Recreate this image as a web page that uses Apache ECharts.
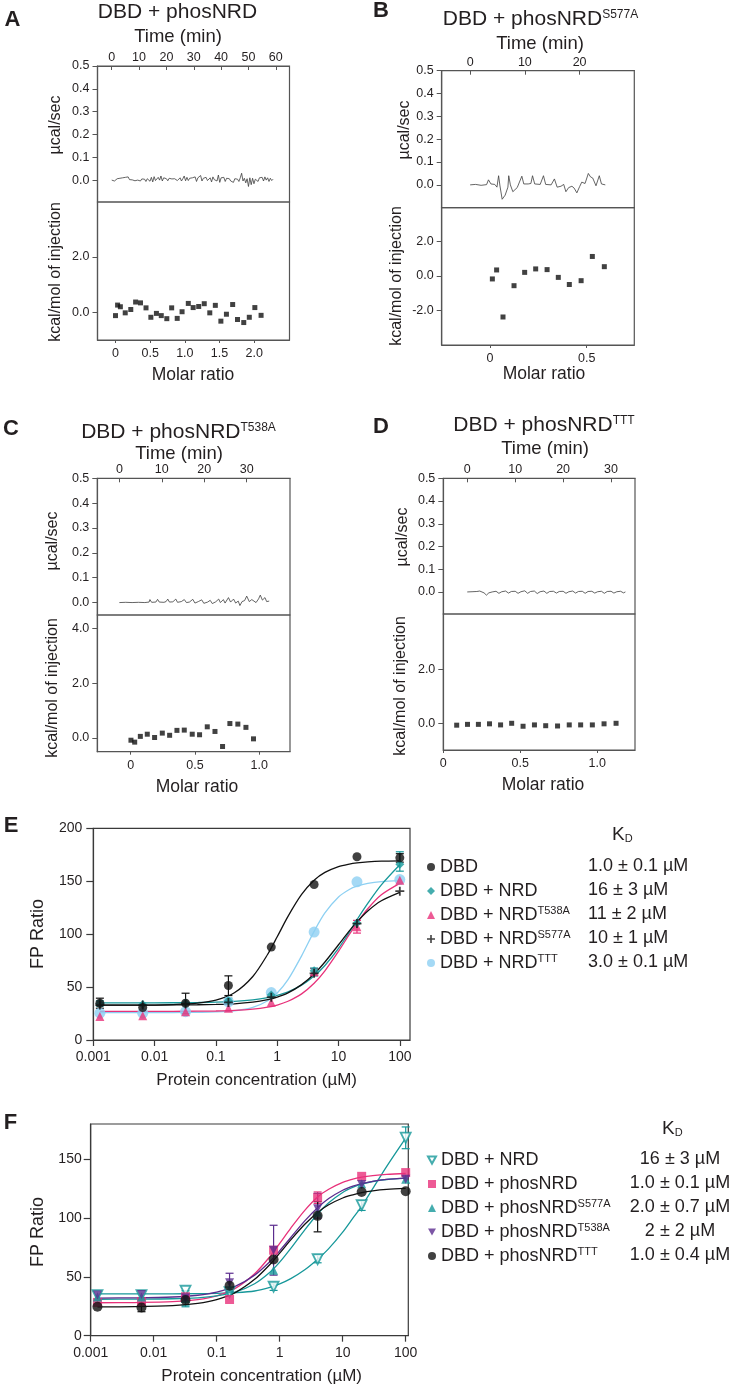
<!DOCTYPE html>
<html>
<head>
<meta charset="UTF-8">
<title>DBD / NRD binding: ITC and FP</title>
<script src="https://cdn.jsdelivr.net/npm/echarts@6.0.0/dist/echarts.min.js"></script>
<style>
    html, body { margin: 0; padding: 0; background: #fff; }
    #main { width: 737px; height: 1389px; }
</style>
</head>
<body>
<div id="main"></div>
<script>
// ---------- ITC raw traces (time in min, µcal/sec) ----------
var traceAStep = 0.5;
var traceA = [
    0.000, 0.002, -0.004, 0.003, 0.006, -0.002, 0.008, 0.004, 0.010, 0.003,
    0.012, 0.006, 0.014, 0.002, 0.009, 0.001, 0.006, -0.003, 0.004, 0.000,
    0.002, -0.004, 0.005, -0.002, 0.004, -0.006, 0.006, 0.001, -0.005, 0.012,
    -0.008, 0.015, -0.002, 0.004, 0.012, 0.000, 0.018, -0.004, 0.010, 0.002,
    0.006, -0.003, 0.008, 0.002, 0.005, -0.001, 0.006, 0.003, -0.002, 0.005,
    0.010, -0.004, 0.006, 0.018, -0.003, 0.012, -0.002, 0.008, 0.000, 0.010,
    0.004, 0.014, -0.006, 0.010, 0.002, 0.020, -0.004, 0.008, 0.003, 0.012,
    -0.002, 0.006, 0.010, -0.008, 0.014, 0.002, 0.008, -0.004, 0.022, -0.010,
    0.010, 0.004, 0.012, -0.006, 0.008, 0.002, 0.006, -0.004, 0.004, -0.010,
    0.006, 0.000, 0.004, -0.006, 0.010, 0.030, -0.004, 0.008, -0.012, 0.006,
    -0.028, 0.010, -0.020, 0.008, -0.016, 0.004, 0.012, -0.006, 0.010, 0.002,
    0.012, -0.004, 0.014, 0.000, 0.010, -0.006, 0.008, -0.002, 0.004
];
var traceB = [[0,0],[1,0.002],[2,-0.002],[3,0.001],[3.35,0.022],[3.8,0.004],[4.5,0.002],[4.9,-0.01],
    [5.2,0.04],[5.45,-0.005],[5.85,-0.063],[6.4,-0.045],[6.9,-0.01],[7.05,0.04],[7.35,0],[7.8,-0.03],
    [8.6,-0.012],[9.45,0.038],[9.8,0.004],[10.6,0.004],[11.1,0.006],[11.4,0.04],[11.8,0.004],[12.8,0.002],
    [13.4,0.04],[13.8,0.002],[14.8,0],[15.4,0.026],[15.9,-0.01],[16.6,-0.006],[17.1,0.002],[17.5,-0.03],
    [18,-0.012],[18.6,-0.006],[19,-0.014],[19.5,-0.035],[20,-0.008],[20.4,0.012],[21,0.006],[21.6,0.05],
    [22,0.035],[22.4,0.03],[23,-0.004],[23.6,0.04],[24,0.004],[24.7,0]];
var traceC = [[0,0],[1.5,0.001],[3,0],[4.5,0.001],[6,0],[7,0.002],[7.2,0.012],[7.6,0.001],[8.6,0.002],
    [9,0.013],[9.4,0.002],[10.5,0.001],[11,0.004],[11.4,0.014],[11.8,0.002],[12.6,0.003],[13.3,0.014],
    [13.7,0.001],[14.6,0.004],[15.3,0.012],[15.8,0],[16.5,0.002],[17.3,0.013],[17.8,-0.002],[18.6,0.004],
    [19.4,0.011],[19.9,-0.003],[20.8,0.002],[21.4,0.009],[21.9,-0.004],[22.7,0.003],[23.4,0.014],[23.8,0],
    [24.5,0.012],[24.9,-0.002],[25.7,0.02],[26.2,0.002],[26.9,0.014],[27.4,-0.002],[28,0.006],[28.4,-0.012],
    [28.9,0.004],[29.5,0.008],[30,0.026],[30.6,0.004],[31.2,0.012],[31.6,0.02],[32.2,0],[32.8,0.015],
    [33.2,0.03],[33.7,0.01],[34.3,0.02],[34.7,0.004],[35.3,0.006]];
var traceD = [[0,0],[1,0.001],[2,0.002],[2.6,0.004],[3,0],[3.5,-0.004],[4,-0.014],[4.5,-0.004],[5.2,0],
    [6,0.003],[6.6,-0.006],[7.2,0.001],[8,0.004],[8.6,-0.005],[9.2,0.002],[10,0.003],[10.6,-0.006],
    [11.2,0.001],[12,0.005],[12.6,-0.006],[13.2,0.002],[14,0.004],[14.6,-0.007],[15.2,0.001],[16,0.004],
    [16.6,-0.006],[17.2,0.002],[18,0.003],[18.6,-0.005],[19.2,0.002],[20,0.003],[20.6,-0.006],[21.2,0.001],
    [22,0.004],[22.6,-0.005],[23.2,0.002],[24,0.003],[24.6,-0.006],[25.2,0.002],[26,0.003],[26.6,-0.005],
    [27.2,0.001],[28,0.003],[28.6,-0.006],[29.2,0.002],[30,0.003],[30.6,-0.005],[31.2,0.001],[32,0.003],
    [32.6,-0.004],[33,0]];

// ---------- ITC integrated heats (molar ratio, kcal/mol of injection) ----------
var ratioA = [0.00,0.03,0.07,0.14,0.22,0.29,0.36,0.44,0.51,0.59,0.66,0.74,0.81,0.89,0.96,1.05,1.12,1.20,1.28,1.36,1.44,1.52,1.60,1.69,1.76,1.85,1.93,2.01,2.10];
var heatA  = [-0.12,0.26,0.20,-0.02,0.10,0.37,0.34,0.16,-0.18,-0.04,-0.12,-0.23,0.16,-0.22,0.02,0.32,0.17,0.21,0.31,-0.02,0.25,-0.32,-0.07,0.28,-0.26,-0.37,-0.18,0.17,-0.11];
var ratioB = [0.012,0.034,0.067,0.124,0.179,0.236,0.295,0.353,0.41,0.471,0.529,0.591];
var heatB  = [-0.17,0.35,-2.37,-0.56,0.21,0.41,0.37,-0.08,-0.49,-0.27,1.13,0.54];
var ratioC = [0.002,0.031,0.075,0.129,0.186,0.246,0.303,0.36,0.417,0.479,0.536,0.596,0.656,0.715,0.772,0.834,0.897,0.956];
var heatC  = [-0.09,-0.16,0.05,0.13,0.01,0.17,0.09,0.27,0.28,0.13,0.11,0.40,0.23,-0.32,0.52,0.50,0.38,-0.04];
var ratioD = [0.087,0.157,0.228,0.30,0.372,0.444,0.518,0.592,0.665,0.742,0.818,0.892,0.968,1.044,1.122];
var heatD  = [-0.07,-0.04,-0.04,-0.02,-0.06,0.0,-0.11,-0.06,-0.09,-0.10,-0.06,-0.06,-0.06,-0.02,0.0];

// ---------- ITC tick values ----------
var powerTicks = [0, 0.1, 0.2, 0.3, 0.4, 0.5];
var timeTicksA = [0, 10, 20, 30, 40, 50, 60];
var timeTicksB = [0, 10, 20];
var timeTicksCD = [0, 10, 20, 30];
var ratioTicksA = [0, 0.5, 1, 1.5, 2];
var ratioTicksB = [0, 0.5];
var ratioTicksCD = [0, 0.5, 1];
var heatTicksA = [0, 2];
var heatTicksB = [-2, 0, 2];
var heatTicksC = [0, 2, 4];
var heatTicksD = [0, 2];

// ---------- FP titrations (µM, FP ratio) ----------
var conc = [0.00128, 0.0064, 0.032, 0.16, 0.8, 4, 20, 100];
var fpE_DBD   = [34.7, 30.6, 34.7, 51.5, 87.8, 146.9, 173.1, 172.1];
var fpE_NRD   = [34.5, 33.5, 35.0, 37.0, 42.5, 65.4, 110.5, 166.0];
var fpE_T538A = [22.1, 23.0, 26.8, 30.0, 35.7, 64.5, 107.0, 151.0];
var fpE_S577A = [33.0, 33.0, 34.0, 35.5, 40.5, 63.0, 110.0, 140.6];
var fpE_TTT   = [25.3, 25.3, 26.8, 36.0, 44.8, 102.0, 149.4, 151.6];

var fpF_NRD   = [34.5, 34.5, 38.2, 37.0, 41.6, 65.1, 111.0, 168.4];
var fpF_phos  = [28.3, 28.9, 33.1, 30.8, 72.7, 117.4, 135.5, 138.7];
var fpF_S577A = [33.0, 33.0, 31.7, 40.0, 55.7, 105.0, 129.3, 133.0];
var fpF_T538A = [34.5, 35.0, 32.0, 45.0, 72.7, 108.0, 128.5, 133.0];
var fpF_TTT   = [24.6, 24.0, 30.3, 42.4, 64.8, 101.9, 122.2, 122.8];

// error bars: [conc, low, high]
var errE_DBD   = [[0.00128, 30, 39.5], [0.032, 25.3, 44.2], [0.16, 42, 60.6], [100, 168, 176]];
var errE_NRD   = [[0.00128, 32, 37], [0.16, 34.5, 39.5], [4, 60.5, 68], [100, 159.5, 177.8]];
var errE_T538A = [[4, 61, 67.5], [20, 101, 113]];
var errF_NRD   = [[0.00128, 30.3, 37.8], [0.032, 24.6, 38.2], [0.8, 38.5, 44], [4, 62, 68.5], [20, 106.5, 114.5], [100, 159, 177.5]];
var errF_phos  = [[4, 112.5, 122.2]];
var errF_S577A = [[0.032, 26, 36]];
var errF_T538A = [[0.16, 37.6, 53.1], [0.8, 51.5, 93.9], [4, 100, 121]];
var errF_TTT   = [[0.0064, 20.4, 27.5], [4, 88.3, 114]];

// fitted curves at these concentrations
var fitX = [0.00128, 0.005, 0.02, 0.05, 0.1, 0.2, 0.4, 0.7, 1, 1.5, 2.5, 4, 6, 10, 15, 20, 30, 50, 100];
var fitE_DBD   = [33.0, 33.0, 33.5, 34.8, 37.6, 44.6, 60.0, 81.0, 97.5, 116.8, 137.5, 150.9, 158.3, 163.8, 166.2, 167.3, 168.3, 169.0, 169.3];
var fitE_NRD   = [35.0, 35.0, 35.2, 35.4, 35.7, 36.5, 38.0, 40.1, 42.2, 45.5, 51.8, 60.4, 70.4, 86.6, 101.9, 113.6, 129.0, 146.5, 165.5];
var fitE_T538A = [27.0, 27.0, 27.1, 27.2, 27.4, 27.9, 29.1, 31.0, 33.0, 36.6, 43.6, 53.6, 65.4, 83.8, 99.7, 110.5, 124.0, 137.2, 148.0];
var fitE_S577A = [33.0, 33.0, 33.1, 33.3, 33.6, 34.2, 35.7, 38.1, 40.5, 44.5, 52.3, 62.4, 73.7, 90.0, 103.1, 111.6, 121.9, 131.5, 139.5];
var fitE_TTT   = [26.0, 26.0, 26.0, 26.2, 26.5, 27.6, 30.8, 37.1, 44.4, 57.0, 79.5, 102.6, 120.0, 135.1, 142.2, 145.3, 147.9, 149.6, 150.5];
var fitF_NRD   = [35.5, 35.5, 35.6, 35.8, 36.0, 36.6, 38.0, 41.0, 44.0, 48.5, 56.0, 65.0, 74.0, 88.0, 101.0, 110.0, 125.0, 144.0, 168.0];
var fitF_phos  = [28.0, 28.2, 28.9, 30.7, 33.9, 40.4, 52.6, 67.3, 78.5, 91.5, 106.6, 118.0, 124.5, 130.3, 133.3, 134.8, 136.1, 137.2, 137.9];
var fitF_S577A = [31.0, 31.1, 31.4, 32.2, 33.8, 37.2, 44.2, 54.0, 62.5, 74.2, 90.0, 103.5, 113.0, 121.8, 126.5, 128.9, 131.1, 132.8, 134.0];
var fitF_T538A = [32.0, 32.2, 32.9, 34.4, 37.0, 42.1, 51.5, 63.1, 72.2, 83.5, 97.6, 108.8, 116.6, 123.7, 127.4, 129.3, 131.3, 132.9, 134.0];
var fitF_TTT   = [24.5, 24.7, 25.6, 27.5, 30.7, 36.9, 47.9, 60.6, 70.2, 81.5, 94.7, 104.8, 111.3, 117.1, 120.0, 121.7, 123.2, 124.4, 125.3];

var fpTicksE = [0, 50, 100, 150, 200];
var fpTicksF = [0, 50, 100, 150];

// legend texts and KD columns
var namesE = ['E-DBD', 'E-NRD', 'E-T538A', 'E-S577A', 'E-TTT'];
var labelsE = ['DBD', 'DBD + NRD', 'DBD + NRD{sup|T538A}', 'DBD + NRD{sup|S577A}', 'DBD + NRD{sup|TTT}'];
var kdE = ['1.0 ± 0.1 µM', '16 ± 3 µM', '11 ± 2 µM', '10 ± 1 µM', '3.0 ± 0.1 µM'];
var namesF = ['F-NRD', 'F-phos', 'F-S577A', 'F-T538A', 'F-TTT'];
var labelsF = ['DBD + NRD', 'DBD + phosNRD', 'DBD + phosNRD{sup|S577A}', 'DBD + phosNRD{sup|T538A}', 'DBD + phosNRD{sup|TTT}'];
var kdF = ['16 ± 3 µM', '1.0 ± 0.1 µM', '2.0 ± 0.7 µM', '2 ± 2 µM', '1.0 ± 0.4 µM'];

// ---------- styles ----------
var FONT = '"Liberation Sans", Arial, Helvetica, sans-serif';
var INK = '#231f20';
var BOX = '#555555';
var AX = '#3a3a3a';
var TEAL = '#17989a';
var PINK = '#e8317a';
var SKY = '#8dd0f2';
var PURPLE = '#5b2c8e';
var BLACK = '#111111';
var PLUS = 'path://M4,0H6V4H10V6H6V10H4V6H0V4H4Z';
var DOWN = 'path://M0,0L10,0L5,9Z';

var legendLabel = {};
namesE.forEach(function (n, i) { legendLabel[n] = labelsE[i]; });
namesF.forEach(function (n, i) { legendLabel[n] = labelsF[i]; });

var grids = [
    {left: 97.5, top: 66, width: 192, height: 136},
    {left: 97.5, top: 202, width: 192, height: 138},
    {left: 441.7, top: 70.7, width: 192.6, height: 137},
    {left: 441.7, top: 207.7, width: 192.6, height: 137.3},
    {left: 97.3, top: 478.3, width: 192.7, height: 136.7},
    {left: 97.3, top: 615, width: 192.7, height: 136.7},
    {left: 443.3, top: 478.3, width: 191.7, height: 135.7},
    {left: 443.3, top: 614, width: 191.7, height: 136},
    {left: 93.3, top: 828.3, width: 316.7, height: 211.7},
    {left: 90.7, top: 1124, width: 317.6, height: 211.7}
].map(function (g, i) {
    g.show = true;
    g.borderColor = i >= 8 ? AX : BOX;
    g.borderWidth = 1.2;
    g.containLabel = false;
    g.outerBoundsMode = 'none';
    return g;
});

function labelStyle(size) {
    return {fontSize: size, color: INK, fontFamily: FONT};
}
function itcTopX(gi, min, max, ticks) {
    return {
        gridIndex: gi, type: 'value', position: 'top', min: min, max: max,
        axisLine: {onZero: false, lineStyle: {color: BOX, width: 1.2}},
        axisTick: {inside: true, length: 4, customValues: ticks, lineStyle: {color: BOX}},
        axisLabel: Object.assign(labelStyle(12.5), {customValues: ticks, margin: 2}),
        splitLine: {show: false}
    };
}
function itcBotX(gi, min, max, ticks) {
    return {
        gridIndex: gi, type: 'value', min: min, max: max,
        axisLine: {onZero: false, lineStyle: {color: BOX, width: 1.2}},
        axisTick: {length: 3, customValues: ticks, lineStyle: {color: BOX}},
        axisLabel: Object.assign(labelStyle(12.5), {
            customValues: ticks, margin: 7,
            formatter: function (v) { return v === 0 ? '0' : v.toFixed(1); }
        }),
        splitLine: {show: false}
    };
}
function itcY(gi, min, max, ticks) {
    return {
        gridIndex: gi, type: 'value', min: min, max: max,
        axisLine: {onZero: false, lineStyle: {color: BOX, width: 1.2}},
        axisTick: {length: 5, customValues: ticks, lineStyle: {color: BOX}},
        axisLabel: Object.assign(labelStyle(12.5), {
            customValues: ticks, margin: 8,
            formatter: function (v) { return v.toFixed(1); }
        }),
        splitLine: {show: false}
    };
}
function fpX(gi, max) {
    return {
        gridIndex: gi, type: 'log', logBase: 10, min: 0.001, max: max,
        axisLine: {onZero: false, lineStyle: {color: AX, width: 1.2}},
        axisTick: {length: 6, lineStyle: {color: AX, width: 1.2}},
        minorTick: {show: false},
        axisLabel: Object.assign(labelStyle(14), {
            margin: 10, showMaxLabel: false,
            formatter: function (v) { return String(Number(v.toPrecision(2))); }
        }),
        splitLine: {show: false}
    };
}
function fpY(gi, max, ticks, margin) {
    return {
        gridIndex: gi, type: 'value', min: 0, max: max,
        axisLine: {onZero: false, lineStyle: {color: AX, width: 1.2}},
        axisTick: {length: 7, customValues: ticks, lineStyle: {color: AX, width: 1.2}},
        axisLabel: Object.assign(labelStyle(14), {customValues: ticks, margin: margin}),
        splitLine: {show: false}
    };
}

var xAxes = [
    itcTopX(0, -5.2, 65, timeTicksA), itcBotX(1, -0.26, 2.51, ratioTicksA),
    itcTopX(2, -5.2, 30, timeTicksB), itcBotX(3, -0.25, 0.746, ratioTicksB),
    itcTopX(4, -5.2, 40.2, timeTicksCD), itcBotX(5, -0.26, 1.24, ratioTicksCD),
    itcTopX(6, -5, 35, timeTicksCD), itcBotX(7, 0, 1.245, ratioTicksCD),
    fpX(8, 146.6), fpX(9, 110)
];
var yAxes = [
    itcY(0, -0.096, 0.5, powerTicks), itcY(1, -1.0, 3.98, heatTicksA),
    itcY(2, -0.1, 0.5, powerTicks), itcY(3, -3.99, 3.95, heatTicksB),
    itcY(4, -0.05, 0.5, powerTicks), itcY(5, -0.51, 4.49, heatTicksC),
    itcY(6, -0.097, 0.5, powerTicks), itcY(7, -0.99, 4.05, heatTicksD),
    fpY(8, 200, fpTicksE, 11), fpY(9, 180, fpTicksF, 9)
];

function pairs(xs, ys) { return xs.map(function (x, i) { return [x, ys[i]]; }); }

function trace(gi, data) {
    return {type: 'line', xAxisIndex: gi, yAxisIndex: gi, data: data, symbol: 'none', silent: true,
        lineStyle: {color: '#3d3d3d', width: 0.8}};
}
function heats(gi, xs, ys) {
    return {type: 'scatter', xAxisIndex: gi, yAxisIndex: gi, data: pairs(xs, ys), symbol: 'rect',
        symbolSize: 5, itemStyle: {color: BLACK}, silent: true};
}
function fit(gi, ys, color) {
    return {type: 'line', xAxisIndex: gi, yAxisIndex: gi, data: pairs(fitX, ys), symbol: 'none',
        smooth: 0.3, silent: true, lineStyle: {color: color, width: 1.3}};
}
function errs(gi, rows, color) {
    return {
        type: 'custom', xAxisIndex: gi, yAxisIndex: gi, data: rows, silent: true,
        encode: {x: 0, y: [1, 2]},
        renderItem: function (params, api) {
            var lo = api.coord([api.value(0), api.value(1)]);
            var hi = api.coord([api.value(0), api.value(2)]);
            var w = 4, st = {stroke: color, lineWidth: 1.2};
            return {type: 'group', children: [
                {type: 'line', shape: {x1: lo[0], y1: lo[1], x2: hi[0], y2: hi[1]}, style: st},
                {type: 'line', shape: {x1: lo[0] - w, y1: lo[1], x2: lo[0] + w, y2: lo[1]}, style: st},
                {type: 'line', shape: {x1: hi[0] - w, y1: hi[1], x2: hi[0] + w, y2: hi[1]}, style: st}
            ]};
        }
    };
}
function pts(gi, name, ys, symbol, size, itemStyle) {
    return {type: 'scatter', name: name, xAxisIndex: gi, yAxisIndex: gi, data: pairs(conc, ys),
        symbol: symbol, symbolSize: size, itemStyle: itemStyle, z: 4};
}

var series = [
    trace(0, traceA.map(function (v, i) { return [i * traceAStep, v]; })),
    trace(2, traceB), trace(4, traceC), trace(6, traceD),
    heats(1, ratioA, heatA), heats(3, ratioB, heatB), heats(5, ratioC, heatC), heats(7, ratioD, heatD),

    // panel E
    fit(8, fitE_TTT, SKY), fit(8, fitE_T538A, PINK), fit(8, fitE_NRD, TEAL),
    fit(8, fitE_S577A, BLACK), fit(8, fitE_DBD, BLACK),
    errs(8, errE_T538A, PINK), errs(8, errE_NRD, TEAL), errs(8, errE_DBD, BLACK),
    pts(8, 'E-TTT', fpE_TTT, 'circle', 11, {color: SKY}),
    pts(8, 'E-T538A', fpE_T538A, 'triangle', 9, {color: PINK}),
    pts(8, 'E-NRD', fpE_NRD, 'diamond', 9, {color: TEAL}),
    pts(8, 'E-S577A', fpE_S577A, PLUS, 9, {color: BLACK}),
    pts(8, 'E-DBD', fpE_DBD, 'circle', 9, {color: BLACK}),

    // panel F
    fit(9, fitF_NRD, TEAL), fit(9, fitF_phos, PINK), fit(9, fitF_S577A, TEAL),
    fit(9, fitF_T538A, PURPLE), fit(9, fitF_TTT, BLACK),
    errs(9, errF_NRD, TEAL), errs(9, errF_phos, PINK), errs(9, errF_S577A, TEAL),
    errs(9, errF_T538A, PURPLE), errs(9, errF_TTT, BLACK),
    pts(9, 'F-NRD', fpF_NRD, DOWN, 10, {color: '#ffffff', borderColor: TEAL, borderWidth: 1.8}),
    pts(9, 'F-phos', fpF_phos, 'rect', 9, {color: PINK}),
    pts(9, 'F-S577A', fpF_S577A, 'triangle', 9, {color: TEAL}),
    pts(9, 'F-T538A', fpF_T538A, DOWN, 9, {color: PURPLE}),
    pts(9, 'F-TTT', fpF_TTT, 'circle', 10, {color: BLACK})
];

var legendRich = {sup: {fontSize: 11, lineHeight: 12, verticalAlign: 'top', color: INK, fontFamily: FONT}};
function legend(names, icons, left, top) {
    return {
        orient: 'vertical', left: left, top: top, itemWidth: 8, itemHeight: 8, itemGap: 4,
        selectedMode: false,
        data: names.map(function (n, i) { return {name: n, icon: icons[i]}; }),
        formatter: function (n) { return legendLabel[n]; },
        textStyle: {fontSize: 18, lineHeight: 20, color: INK, fontFamily: FONT, rich: legendRich}
    };
}

var RICH = {
    sup: {fontSize: 12, fontFamily: FONT, fill: INK, color: INK, verticalAlign: 'top'},
    sub: {fontSize: 11, fontFamily: FONT, fill: INK, color: INK, verticalAlign: 'bottom'}
};
function txt(x, y, text, size, opt) {
    opt = opt || {};
    return {
        type: 'text', x: x, y: y, rotation: opt.rot || 0, silent: true,
        style: {text: text, fontSize: size, fontFamily: FONT, fontWeight: opt.bold ? 'bold' : 'normal',
            fill: INK, align: opt.align || 'center', verticalAlign: 'middle', rich: RICH}
    };
}
var UP = Math.PI / 2;
var graphics = [
    txt(12.5, 19.5, 'A', 22, {bold: true}), txt(381, 11, 'B', 22, {bold: true}),
    txt(11, 429, 'C', 22, {bold: true}), txt(381, 426.5, 'D', 22, {bold: true}),
    txt(11, 826, 'E', 22, {bold: true}), txt(10.5, 1122.5, 'F', 22, {bold: true}),

    txt(177.5, 12.5, 'DBD + phosNRD', 21),
    txt(540.5, 19, 'DBD + phosNRD{sup|S577A}', 21),
    txt(178.5, 432, 'DBD + phosNRD{sup|T538A}', 21),
    txt(544, 425, 'DBD + phosNRD{sup|TTT}', 21),
    txt(178, 36.5, 'Time (min)', 18.5), txt(540, 43.5, 'Time (min)', 18.5),
    txt(179, 454, 'Time (min)', 18.5), txt(545, 448.5, 'Time (min)', 18.5),

    txt(56, 125, 'µcal/sec', 16, {rot: UP}), txt(405, 130, 'µcal/sec', 16, {rot: UP}),
    txt(53, 541, 'µcal/sec', 16, {rot: UP}), txt(403, 537, 'µcal/sec', 16, {rot: UP}),
    txt(56, 272, 'kcal/mol of injection', 16, {rot: UP}), txt(397, 276, 'kcal/mol of injection', 16, {rot: UP}),
    txt(53, 688, 'kcal/mol of injection', 16, {rot: UP}), txt(401, 686, 'kcal/mol of injection', 16, {rot: UP}),
    txt(193, 375, 'Molar ratio', 17.5), txt(544, 374, 'Molar ratio', 17.5),
    txt(197, 787, 'Molar ratio', 17.5), txt(543, 785, 'Molar ratio', 17.5),

    txt(38, 934, 'FP Ratio', 18, {rot: UP}), txt(38, 1232, 'FP Ratio', 18, {rot: UP}),
    txt(256.7, 1080, 'Protein concentration (µM)', 17),
    txt(261.7, 1376.7, 'Protein concentration (µM)', 17),

    txt(612, 835, 'K{sub|D}', 19, {align: 'left'}),
    txt(662, 1129, 'K{sub|D}', 19, {align: 'left'})
];
kdE.forEach(function (s, i) { graphics.push(txt(588, 866 + i * 24, s, 18, {align: 'left'})); });
kdF.forEach(function (s, i) { graphics.push(txt(680, 1159 + i * 24, s, 18)); });

var chart = echarts.init(document.getElementById('main'), null, {renderer: 'canvas'});
chart.setOption({
    animation: false,
    backgroundColor: '#ffffff',
    grid: grids,
    xAxis: xAxes,
    yAxis: yAxes,
    legend: [
        legend(namesE, ['circle', 'diamond', 'triangle', PLUS, 'circle'], 422, 852),
        legend(namesF, [DOWN, 'rect', 'triangle', DOWN, 'circle'], 422, 1145)
    ],
    series: series,
    graphic: graphics
});
</script>
</body>
</html>
